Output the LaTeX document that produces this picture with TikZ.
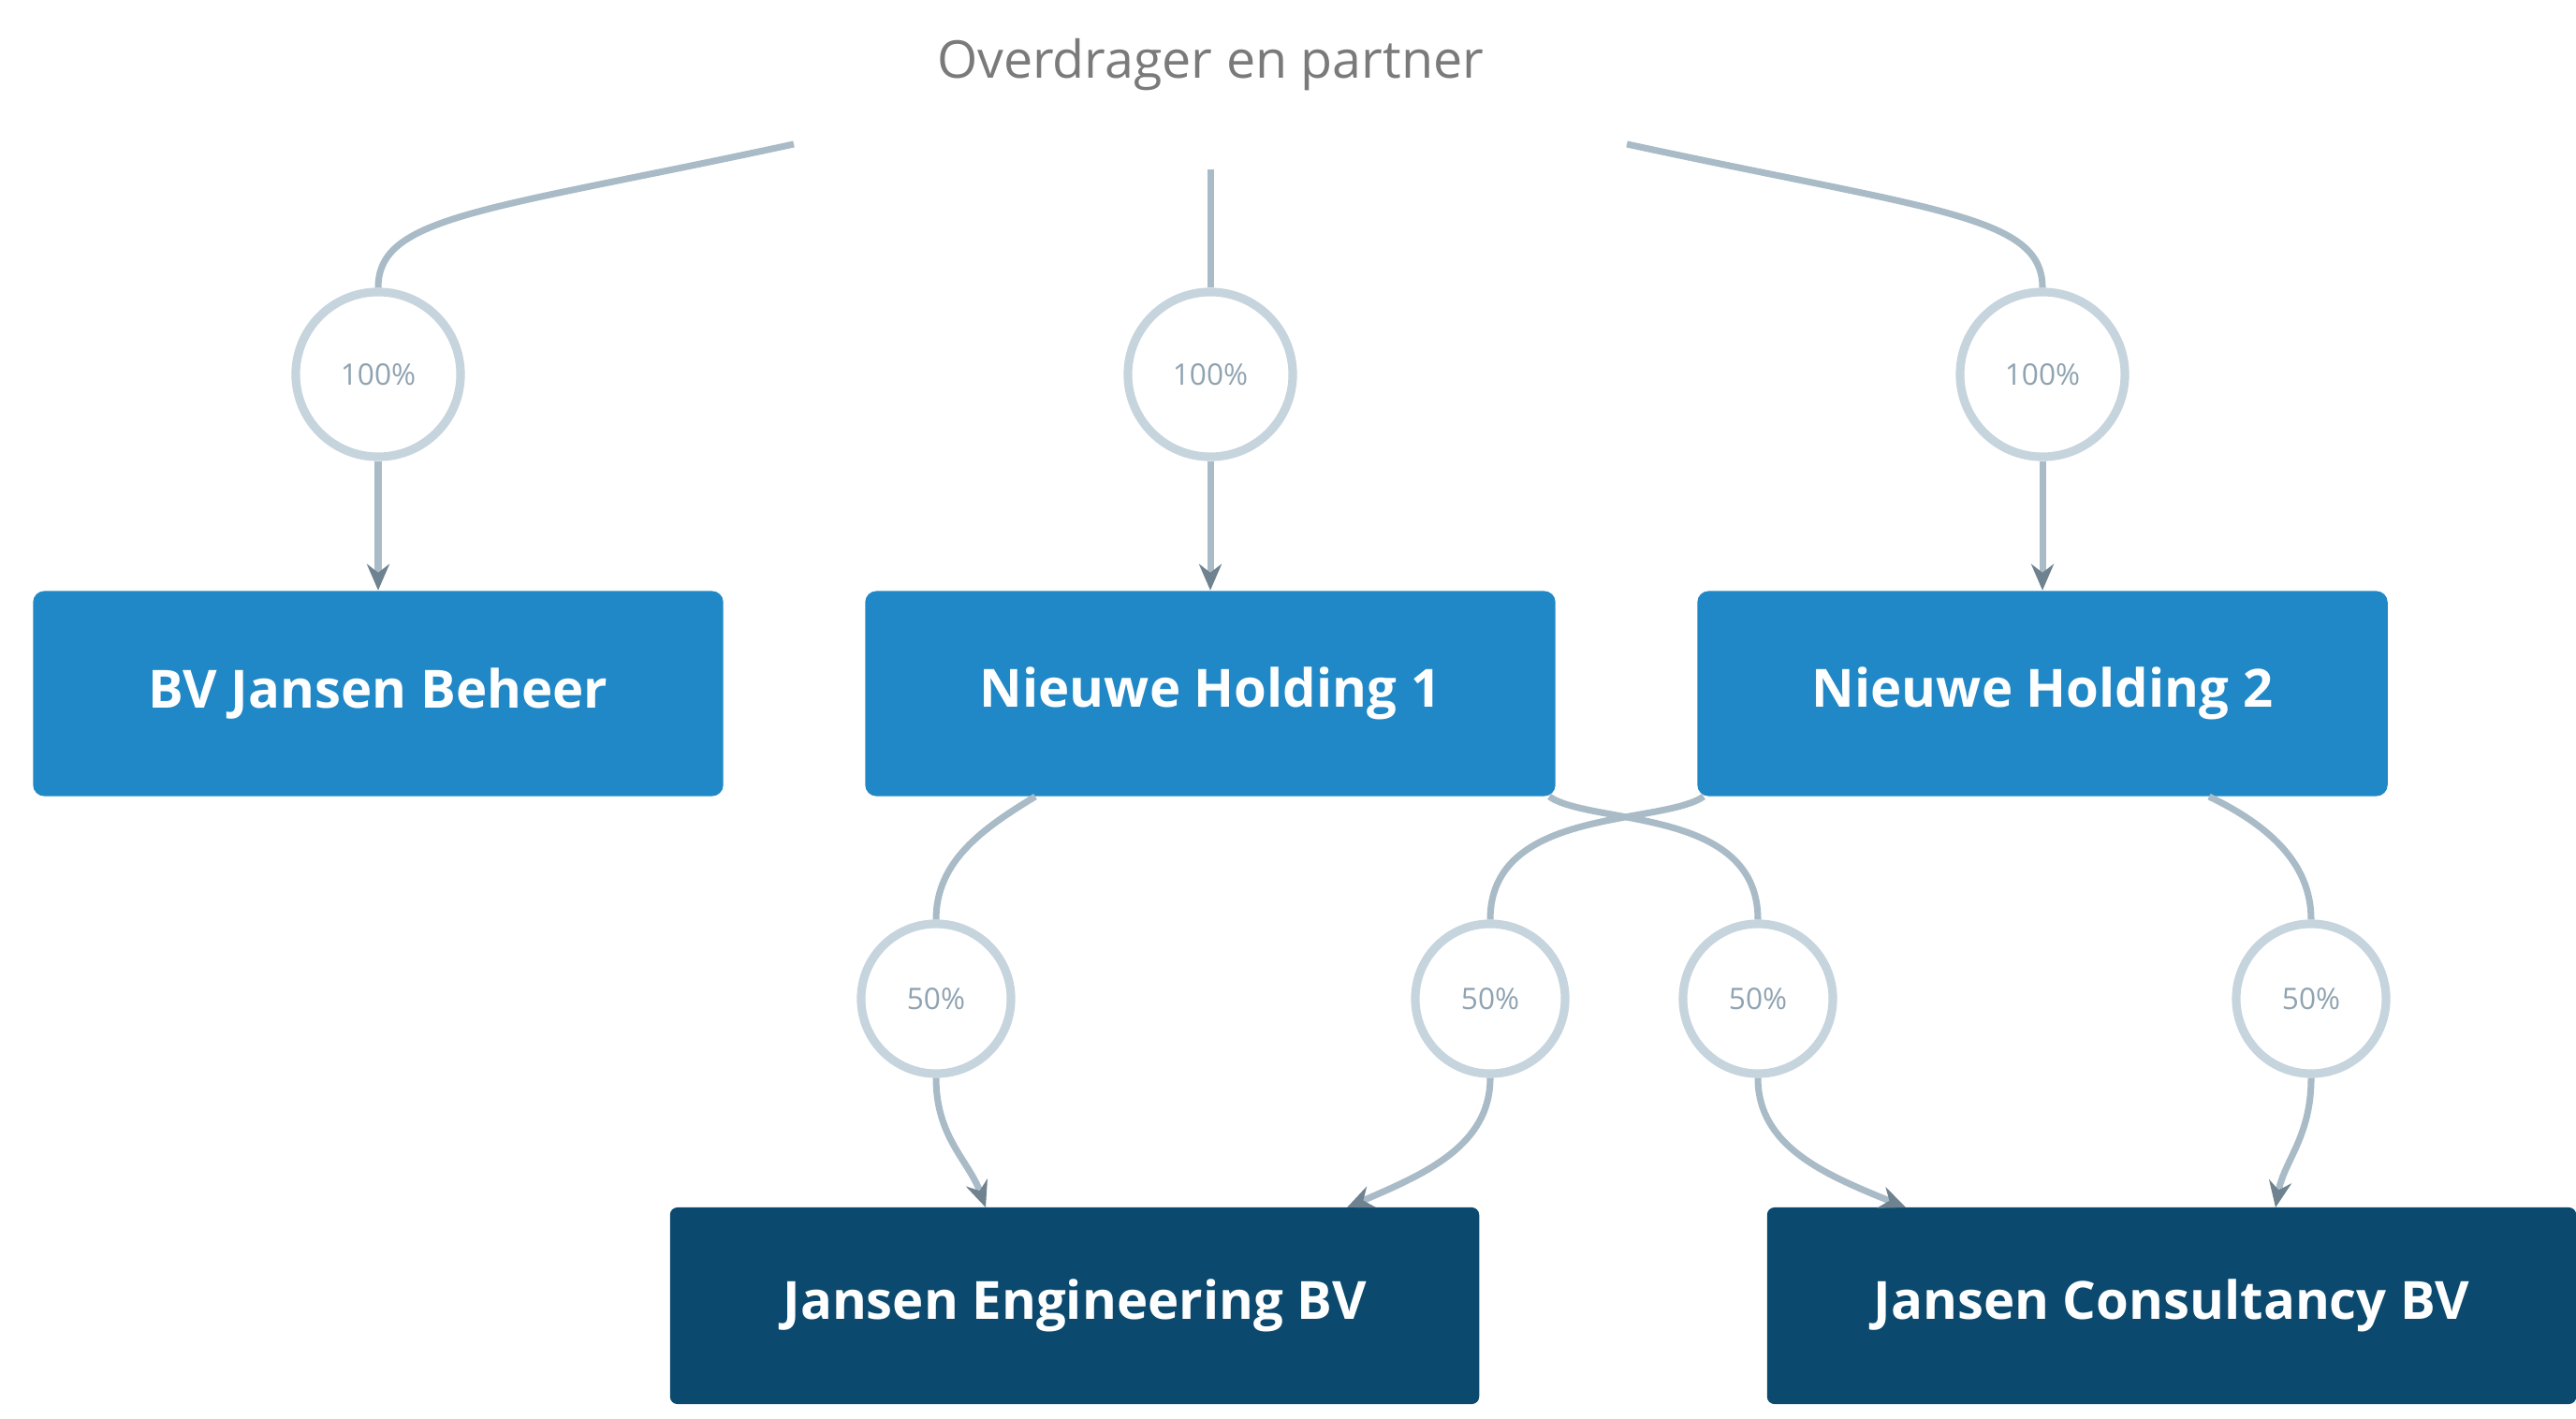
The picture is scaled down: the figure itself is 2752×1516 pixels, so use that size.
\documentclass[tikz,border=0pt]{standalone}
\usepackage{fontspec}
\setmainfont{Open Sans}
\usetikzlibrary{arrows.meta}
\definecolor{boxblue}{HTML}{2088C6}
\definecolor{boxdark}{HTML}{0B4A6E}
\definecolor{linecol}{HTML}{A9BBC7}
\definecolor{ringcol}{HTML}{C6D4DD}
\definecolor{pcttext}{HTML}{8FA3B1}
\definecolor{titletext}{HTML}{7A7A7A}
\definecolor{arrowcol}{HTML}{6F8290}
\tikzset{
  topbox/.style={draw=none, fill=boxblue, rounded corners=0.12cm, minimum width=7.37cm, minimum height=2.19cm, text=white, font=\fontsize{16}{19}\selectfont\bfseries},
  botbox/.style={draw=none, fill=boxdark, rounded corners=0.08cm, minimum width=8.64cm, minimum height=2.10cm, text=white, font=\fontsize{16}{19}\selectfont\bfseries},
  pctbig/.style={circle, draw=ringcol, line width=2.6pt, fill=white, minimum size=1.76cm, inner sep=0pt, text=pcttext, font=\fontsize{9}{11}\selectfont},
  pctsmall/.style={circle, draw=ringcol, line width=2.6pt, fill=white, minimum size=1.60cm, inner sep=0pt, text=pcttext, font=\fontsize{9}{11}\selectfont},
  link/.style={draw=linecol, line width=2pt},
  linkarrow/.style={draw=linecol, line width=2pt, -{Stealth[length=0.28cm, width=0.24cm, color=arrowcol]}},
}
\begin{document}
\begin{tikzpicture}[x=0.01cm, y=-0.01cm]
\useasboundingbox (0,0) rectangle (2752,1516);
\fill[white] (0,0) rectangle (2752,1516);

% title
\node[text=titletext, font=\fontsize{15.8}{19}\selectfont] (title) at (1293,69) {Overdrager en partner};
\coordinate (tl) at (848,154);
\coordinate (tm) at (1293,181);
\coordinate (tr) at (1738,154);

% top percentage circles
\node[pctbig] (c1) at (404,400) {100\%};
\node[pctbig] (c2) at (1293,400) {100\%};
\node[pctbig] (c3) at (2182,400) {100\%};

% top boxes
\node[topbox] (b1) at (404,741) {BV Jansen Beheer};
\node[topbox] (b2) at (1293,741) {Nieuwe Holding 1};
\node[topbox] (b3) at (2182,741) {Nieuwe Holding 2};

% lower percentage circles
\node[pctsmall] (d1) at (1000,1067) {50\%};
\node[pctsmall] (d2) at (1592,1067) {50\%};
\node[pctsmall] (d3) at (1878,1067) {50\%};
\node[pctsmall] (d4) at (2469,1067) {50\%};

% bottom boxes
\node[botbox] (e1) at (1148,1395) {Jansen Engineering BV};
\node[botbox] (e2) at (2320,1395) {Jansen Consultancy BV};

% start points on box borders
\coordinate (s1) at (1106,851);
\coordinate (s2) at (1655,851);
\coordinate (s3) at (1820,851);
\coordinate (s4) at (2360,851);
\coordinate (t1) at (1053,1290);
\coordinate (t2) at (1439,1290);
\coordinate (t3) at (2036,1290);
\coordinate (t4) at (2431,1290);

% top connectors
\path[link] (tl) .. controls (520,225) and (404,230) .. (c1.north);
\path[link] (tm) -- (c2.north);
\path[link] (tr) .. controls (2066,225) and (2182,230) .. (c3.north);
\path[linkarrow] (c1.south) -- (b1.north);
\path[linkarrow] (c2.south) -- (b2.north);
\path[linkarrow] (c3.south) -- (b3.north);

% lower connectors
\path[link] (s1) .. controls (1050,885) and (1000,920) .. (d1.north);
\path[linkarrow] (d1.south) .. controls (1000,1215) and (1035,1240) .. (t1);

\path[link] (s2) .. controls (1700,882) and (1878,862) .. (d3.north);
\path[linkarrow] (d3.south) .. controls (1878,1225) and (1950,1255) .. (t3);

\path[link] (s3) .. controls (1775,882) and (1592,862) .. (d2.north);
\path[linkarrow] (d2.south) .. controls (1592,1225) and (1520,1255) .. (t2);

\path[link] (s4) .. controls (2420,880) and (2469,920) .. (d4.north);
\path[linkarrow] (d4.south) .. controls (2469,1215) and (2440,1240) .. (t4);
\end{tikzpicture}
\end{document}
